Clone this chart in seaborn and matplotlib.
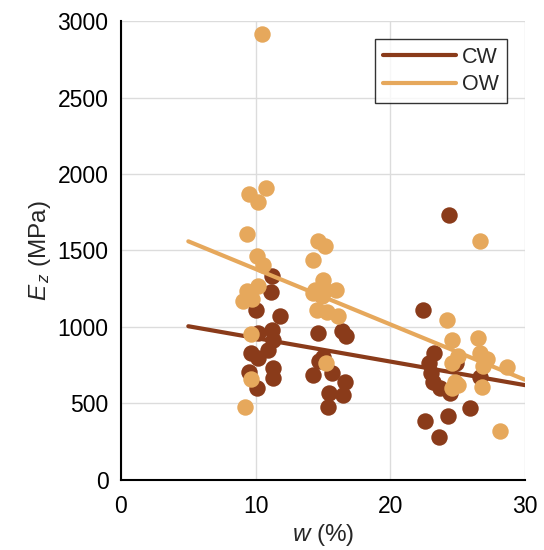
import numpy as np
import pandas as pd
import matplotlib
matplotlib.use("Agg")
import matplotlib.pyplot as plt
import seaborn as sns

# ---- data ----
cw_w = [11.23, 11.14, 10.02, 11.8, 11.19, 10.2, 11.3, 10.94, 9.65, 10.15, 11.3, 9.5, 11.3, 10.07,
        14.65, 16.38, 16.7, 15.02, 14.7, 15.64, 14.23, 16.63, 16.46, 15.46, 15.39, 14.6,
        24.35, 22.45, 23.24, 22.9, 24.9, 23.2, 23.7, 24.4, 26.65, 25.9, 22.57, 24.3, 23.63, 23.0]
cw_e = [1335, 1226, 1113, 1069, 982, 960, 916, 851, 833, 796, 735, 709, 665, 600,
        960, 971, 942, 807, 780, 702, 687, 643, 556, 567, 480, 1220,
        1730, 1108, 833, 764, 764, 643, 600, 567, 676, 469, 388, 419, 279, 700]
ow_w = [10.44, 10.74, 9.50, 10.2, 9.33, 10.07, 10.57, 10.15, 9.33, 9.08, 9.7, 9.65, 9.65, 9.2,
        14.65, 15.14, 14.23, 15.02, 16.0, 14.4, 15.14, 14.9, 14.28, 14.53, 15.27, 16.13, 15.22,
        26.65, 24.18, 24.55, 26.53, 25.04, 26.65, 27.2, 24.55, 28.7, 26.9, 24.8, 25.04, 26.78, 28.14, 24.55]
ow_e = [2917, 1909, 1872, 1815, 1608, 1466, 1407, 1270, 1232, 1167, 1183, 953, 659, 476,
        1560, 1527, 1435, 1309, 1243, 1243, 1243, 1200, 1222, 1113, 1101, 1069, 764,
        1564, 1047, 916, 927, 812, 829, 790, 764, 738, 742, 643, 622, 611, 323, 600]
fit_w = [5, 30]
cw_fit = [1005, 620]
ow_fit = [1560, 655]
groups = ["CW", "OW"]
colors = {"CW": "#8A3B1A", "OW": "#E6A85C"}
x_ticks = [0, 10, 20, 30]
y_ticks = [0, 500, 1000, 1500, 2000, 2500, 3000]

sns.set_style("white")
plt.rcParams["font.family"] = ["Liberation Sans", "DejaVu Sans"]
plt.rcParams["mathtext.fontset"] = "custom"
plt.rcParams["mathtext.rm"] = "Liberation Sans"
plt.rcParams["mathtext.it"] = "Liberation Sans:italic"

cw_df = pd.DataFrame({"w": cw_w, "E": cw_e, "g": "CW"})
ow_df = pd.DataFrame({"w": ow_w, "E": ow_e, "g": "OW"})
fit_df = pd.DataFrame({"w": fit_w * 2, "E": cw_fit + ow_fit, "g": ["CW"] * 2 + ["OW"] * 2})

fig = plt.figure(figsize=(5.44, 5.5), dpi=100)
ax = fig.add_axes([0.2224, 0.1273, 0.7426, 0.8345])

sns.scatterplot(data=cw_df, x="w", y="E", color=colors["CW"], s=140, linewidth=0, ax=ax, legend=False, zorder=2)
sns.lineplot(data=fit_df[fit_df.g == "CW"], x="w", y="E", color=colors["CW"], lw=3, ax=ax, zorder=3, label="CW")
sns.scatterplot(data=ow_df, x="w", y="E", color=colors["OW"], s=140, linewidth=0, ax=ax, legend=False, zorder=4)
sns.lineplot(data=fit_df[fit_df.g == "OW"], x="w", y="E", color=colors["OW"], lw=3, ax=ax, zorder=5, label="OW")

ax.set_xlim(0, 30)
ax.set_ylim(0, 3000)
ax.set_xticks(x_ticks)
ax.set_yticks(y_ticks)
ax.grid(True, color="#dcdcdc", lw=1)
ax.set_axisbelow(True)
for sp in ["top", "right"]:
    ax.spines[sp].set_visible(False)
for sp in ["left", "bottom"]:
    ax.spines[sp].set_color("black")
    ax.spines[sp].set_linewidth(1.5)
ax.tick_params(direction="in", length=4, width=1.5, labelsize=16.5, colors="black")
ax.tick_params(axis="y", pad=9)
ax.tick_params(axis="x", pad=11)
ax.set_xlabel("$w$ (%)", fontsize=17.5, labelpad=3)
ax.set_ylabel(r"$E_{\,z}$ (MPa)", fontsize=17.5, labelpad=3)

leg = ax.legend(loc="upper right", bbox_to_anchor=(0.955, 0.96), fontsize=15.5, frameon=True,
                fancybox=False, edgecolor="black", handlelength=3.4, handletextpad=0.3,
                borderpad=0.35, labelspacing=0.3, borderaxespad=0)
leg.get_frame().set_linewidth(1.0)

fig.savefig("out.png", dpi=100)
